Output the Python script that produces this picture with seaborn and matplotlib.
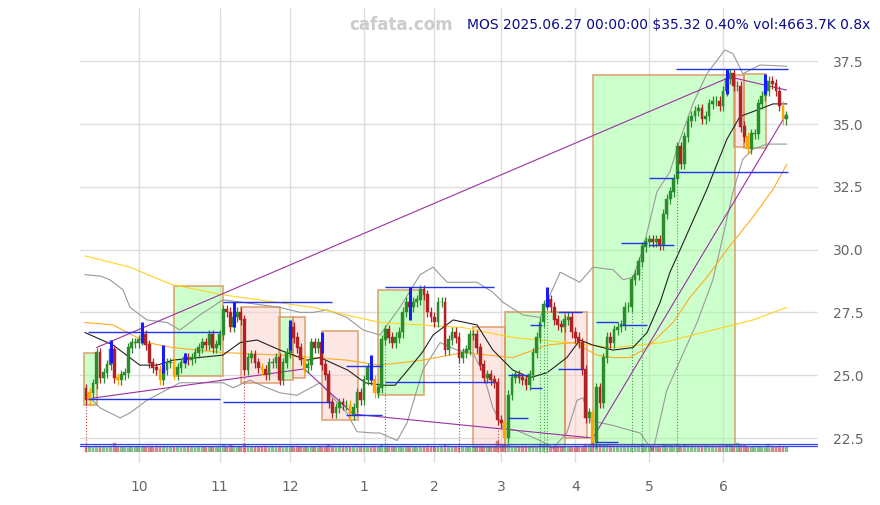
import numpy as np
import pandas as pd
import matplotlib
matplotlib.use("Agg")
import matplotlib.pyplot as plt
import seaborn as sns
from matplotlib.patches import Rectangle

# daily closes, 2024-09-10 .. 2025-06-27 (trading-day index 0..199)
closes = [
    24.0, 24.3, 24.65, 25.9, 24.9, 25.1, 25.4, 26.0, 24.9, 24.8,
    25.0, 25.1, 26.1, 26.3, 26.3, 26.4, 26.6, 26.2, 25.5, 25.3,
    25.2, 24.8, 25.2, 25.5, 25.5, 25.0, 25.3, 25.5, 25.7, 25.6,
    25.7, 25.9, 26.1, 26.3, 26.2, 26.6, 26.1, 26.2, 26.6, 27.6,
    27.5, 26.9, 27.3, 27.5, 27.2, 25.2, 25.7, 25.8, 25.5, 25.3,
    25.2, 25.0, 25.5, 25.5, 25.7, 24.8, 25.5, 25.9, 26.9, 26.5,
    26.1, 25.6, 25.3, 25.4, 26.3, 26.1, 26.3, 25.4, 25.0, 23.9,
    23.5, 23.7, 23.9, 23.8, 23.8, 23.4, 23.7, 24.3, 24.0, 24.8,
    25.3, 24.8, 24.3, 24.5, 26.4, 26.8, 26.5, 26.3, 26.5, 26.7,
    27.5, 27.9, 27.7, 27.9, 28.0, 28.4, 28.2, 27.5, 27.3, 27.1,
    27.9, 27.9, 26.0, 26.4, 26.7, 26.5, 25.7, 25.9, 26.0, 26.6,
    26.6, 26.1, 25.4, 24.9, 25.0, 24.8, 24.7, 23.2, 23.1, 22.5,
    24.2, 24.9, 25.0, 24.9, 24.8, 24.6, 25.0, 25.9, 26.5, 27.1,
    27.8, 28.0, 27.7, 27.2, 27.0, 26.9, 27.2, 27.3, 26.7, 26.5,
    26.3, 25.2, 23.3, 23.5, 22.3, 24.5, 23.9, 25.7, 26.5, 26.3,
    26.8, 26.9, 27.0, 27.7, 27.7, 28.8, 29.0, 29.5, 30.1, 30.3,
    30.4, 30.3, 30.4, 30.2, 31.4, 32.0, 32.3, 32.8, 34.1, 33.4,
    34.5, 35.1, 35.3, 35.5, 35.6, 35.2, 35.3, 35.8, 35.9, 35.9,
    35.7, 36.3, 36.8, 37.0, 36.5, 36.5, 34.9, 34.5, 34.0, 34.6,
    34.6, 35.8, 36.1, 36.3, 36.7, 36.6, 36.3, 35.7, 35.18, 35.32,
]
first_open = 24.45
orange_idx = [1, 9, 21, 25, 50, 62, 75, 82, 119, 144, 188, 198]

# volume in millions
volumes = [
    5.5, 5.0, 5.2, 6.5, 6.0, 5.0, 5.2, 5.8, 9.5, 6.0, 5.5, 5.3, 5.8, 5.5, 5.0, 4.8, 5.5, 5.2, 6.0, 5.5,
    5.8, 5.5, 5.0, 5.2, 4.8, 5.5, 5.0, 5.2, 4.8, 5.0, 5.3, 5.5, 5.0, 5.2, 4.8, 5.0, 5.5, 5.2, 5.8, 7.0,
    6.5, 6.8, 6.0, 5.5, 5.2, 8.0, 6.5, 5.5, 5.2, 5.0, 5.5, 5.8, 5.0, 4.8, 5.2, 5.5, 5.0, 5.2, 6.5, 6.0,
    5.8, 5.5, 5.0, 5.2, 5.5, 5.0, 5.8, 6.0, 6.2, 7.0, 6.5, 5.5, 5.0, 5.2, 4.8, 5.5, 5.2, 5.8, 5.5, 5.0,
    5.5, 5.2, 5.8, 5.5, 7.5, 6.5, 5.8, 5.5, 5.0, 5.2, 5.8, 6.5, 6.0, 5.5, 5.2, 5.5, 5.0, 5.8, 5.5, 5.2,
    5.5, 5.8, 7.0, 6.0, 5.5, 5.2, 6.0, 5.5, 5.2, 5.0, 5.5, 5.8, 6.2, 6.5, 5.5, 5.8, 6.0, 11.5, 8.5, 7.5,
    7.0, 6.5, 6.0, 5.5, 5.8, 5.5, 5.2, 6.0, 6.5, 7.0, 7.2, 8.5, 6.5, 6.0, 5.8, 5.5, 5.2, 5.5, 5.8, 6.0,
    5.5, 6.5, 8.0, 7.5, 9.0, 8.0, 7.0, 7.5, 6.8, 6.0, 6.2, 5.8, 5.5, 6.0, 5.5, 6.5, 6.0, 6.2, 6.8, 6.5,
    6.0, 5.8, 5.5, 5.8, 8.5, 7.5, 7.0, 6.5, 7.2, 6.5, 6.8, 6.5, 6.0, 5.8, 5.5, 6.0, 5.8, 5.5, 5.2, 5.5,
    5.8, 6.5, 7.0, 7.5, 6.5, 9.0, 7.5, 6.8, 6.0, 5.5, 5.8, 6.5, 6.0, 5.8, 8.5, 6.0, 5.5, 5.8, 5.2, 4.66,
]
vol_avg_lines = [5.8, 8.0]

month_idx = [15, 38, 58, 79, 99, 118, 139, 160, 181]
month_labels = ['10', '11', '12', '1', '2', '3', '4', '5', '6']

# moving averages / bands (index, price)
ma20_x = [-0.3, 7.7, 15.3, 20.2, 24.7, 38.9, 43.8, 48.6, 55.1, 62.8, 66.5, 74.4, 79.3, 84.1, 87.8,
          92.0, 95.5, 98.6, 104.3, 111.1, 115.6, 121.3, 126.1, 131.0, 136.6, 140.3, 144.0, 149.7,
          155.4, 159.4, 163.1, 165.9, 168.8, 176.4, 182.1, 185.8, 191.5, 195.2, 199.1]
ma20_y = [26.7, 26.2, 25.4, 25.4, 25.6, 25.8, 26.3, 26.4, 26.0, 25.6, 25.7, 25.2, 24.7, 24.6, 24.6,
          25.3, 25.9, 26.6, 27.2, 27.0, 26.0, 25.2, 24.9, 25.1, 25.7, 26.4, 26.2, 26.0,
          26.1, 26.7, 27.9, 29.1, 30.0, 32.4, 34.4, 35.3, 35.6, 35.8, 35.8]
ma50_x = [-0.3, 7.7, 17.3, 24.7, 38.9, 55.1, 74.1, 83.5, 95.7, 107.1, 121.3, 131.0, 138.4, 145.2,
          149.7, 154.5, 159.4, 166.8, 171.6, 176.4, 182.1, 189.5, 195.2, 199.1]
ma50_y = [27.1, 27.0, 26.3, 26.1, 25.9, 25.8, 25.6, 25.4, 25.6, 25.9, 25.7, 26.2, 26.3, 25.8,
          25.7, 25.7, 26.1, 27.1, 28.1, 28.9, 30.0, 31.3, 32.4, 33.4]
ma200_x = [-0.3, 12.5, 21.0, 24.7, 38.9, 64.5, 83.5, 107.1, 121.3, 136.6, 149.7, 163.9, 178.1, 189.5, 199.1]
ma200_y = [29.75, 29.3, 28.8, 28.6, 28.2, 27.7, 27.1, 26.9, 26.5, 26.3, 26.1, 26.3, 26.8, 27.2, 27.7]
bb_up_x = [-0.3, 4.0, 6.8, 10.5, 12.5, 17.3, 23.0, 26.7, 32.4, 38.9, 44.6, 55.1, 60.8, 64.5, 68.5,
           74.1, 78.7, 83.5, 89.2, 94.9, 98.6, 102.6, 111.1, 115.6, 118.5, 124.1, 129.0, 134.7,
           140.3, 144.0, 149.7, 152.6, 155.4, 158.2, 162.2, 165.9, 168.8, 172.4, 176.4, 181.5,
           183.8, 186.6, 191.5, 199.1]
bb_up_y = [29.0, 28.95, 28.8, 28.4, 27.7, 27.2, 27.1, 26.8, 27.4, 28.0, 27.9, 27.7, 27.5, 27.5, 27.6,
           27.3, 26.8, 26.6, 27.7, 29.0, 29.3, 28.7, 28.7, 28.3, 27.9, 27.4, 27.3, 29.1,
           28.7, 29.3, 29.2, 28.8, 28.9, 30.0, 32.3, 33.1, 34.4, 35.8, 37.0, 37.95,
           37.8, 37.0, 37.35, 37.3]
bb_lo_x = [-0.3, 4.0, 9.7, 12.5, 17.3, 26.7, 38.9, 41.8, 46.6, 51.4, 55.1, 59.9, 66.5, 70.2, 74.1,
           77.0, 81.5, 83.5, 88.4, 91.2, 95.7, 100.6, 105.4, 109.9, 112.8, 115.6, 118.5, 122.4,
           129.0, 132.7, 136.6, 139.5, 141.2, 143.2, 149.7, 157.4, 159.4, 161.1, 165.0, 168.8,
           173.6, 178.1, 180.1, 183.8, 186.6, 189.5, 193.5, 199.1]
bb_lo_y = [24.3, 23.7, 23.3, 23.5, 24.0, 24.7, 24.7, 24.5, 24.8, 24.5, 24.3, 24.2, 24.7, 24.1, 23.5,
           22.75, 22.7, 22.7, 22.4, 23.1, 25.2, 26.3, 26.0, 25.9, 25.1, 23.7, 22.9, 22.8,
           22.4, 22.1, 22.7, 24.0, 24.1, 23.2, 23.0, 22.7, 22.3, 22.0, 24.4, 25.6,
           27.1, 28.8, 30.0, 32.3, 33.6, 34.0, 34.2, 34.2]

# trend lines (index, price)
trend_up_x = [3, 183, 199]
trend_up_y = [26.1, 36.87, 36.35]
trend_lo_x = [0, 62, 76, 144, 199]
trend_lo_y = [24.05, 25.25, 23.45, 22.5, 35.4]

# range boxes: start idx, end idx, low, high, kind
box_start = [-0.5, 25, 44, 54.8, 58.8, 67, 83, 110, 119, 136, 144, 184, 187]
box_end = [3, 38.9, 55.1, 58.8, 62.2, 77.3, 96, 119, 136, 142.3, 184.4, 187, 193.2]
box_low = [23.8, 24.97, 24.7, 24.8, 24.9, 23.2, 24.2, 22.15, 22.15, 22.5, 22.2, 34.1, 34.05]
box_high = [25.9, 28.55, 27.7, 27.3, 27.3, 26.76, 28.4, 26.9, 27.5, 27.5, 36.95, 36.95, 37.0]
box_kind = ['up', 'up', 'down', 'up', 'down', 'down', 'up', 'down', 'up', 'down', 'up', 'down', 'up']

# support / resistance segments
sr_start = [0.5, 0.5, 39, 39, 74, 74, 85, 85, 120, 120, 126, 126, 134, 134, 145, 145,
            152, 152, 160, 160, 167.5, 167.5]
sr_end = [38, 38, 70, 70, 84, 84, 116, 116, 125.5, 125.5, 129.5, 129.5, 141, 141, 151, 151,
          159.4, 159.4, 167, 167, 199.5, 199.5]
sr_price = [26.7, 24.05, 27.9, 23.93, 25.35, 23.4, 28.5, 24.73, 25.0, 23.3, 27.0, 24.5,
            27.5, 25.25, 27.1, 22.35, 30.25, 27.0, 32.85, 30.2, 37.2, 33.1]

# signal markers
sig_idx = [7, 16, 22, 28, 42, 58, 67, 81, 92, 131, 182, 193]
sig_lo = [25.5, 26.3, 25.1, 25.5, 26.9, 26.0, 25.9, 24.8, 27.2, 27.7, 36.2, 36.2]
sig_hi = [26.4, 27.1, 26.2, 25.9, 27.9, 27.2, 26.7, 25.8, 28.5, 28.5, 37.2, 37.0]
sell_marks = [0, 45, 106, 117]
buy_marks = [85, 119, 129, 130, 131, 155, 158, 168]

# ---------------------------------------------------------------
n = len(closes)
idx = np.arange(n)
opens = [first_open] + closes[:-1]
df = pd.DataFrame({'i': idx, 'open': opens, 'close': closes, 'vol': volumes})
df['top'] = df[['open', 'close']].max(axis=1)
df['bot'] = df[['open', 'close']].min(axis=1)
df['high'] = df['top'] + 0.2
df['low'] = df['bot'] - 0.2
df['color'] = np.where(df['close'] >= df['open'], '#2a8c2a', '#b22222')
df.loc[orange_idx, 'color'] = '#ffa500'

sns.set_theme(style="white")
fig = plt.figure(figsize=(8.8, 5.05), dpi=100)
ax = fig.add_axes([80 / 880, 42 / 505, 738 / 880, 455 / 505])


def px_to_price(y):
    return 22.5 + (438 - y) / 25.12


ax.set_ylim(px_to_price(463), px_to_price(8))
ax.set_xlim(-1.7, -1.7 + 738 / 3.52)

ax.set_yticks([22.5, 25, 27.5, 30, 32.5, 35, 37.5])
ax.set_yticklabels(['22.5', '25.0', '27.5', '30.0', '32.5', '35.0', '37.5'])
ax.yaxis.tick_right()
ax.set_xticks(month_idx)
ax.set_xticklabels(month_labels)
ax.tick_params(axis='y', length=0, labelsize=10, labelcolor='#666666', pad=11)
ax.tick_params(axis='x', length=4, width=1, color='#333333', labelsize=10,
               labelcolor='#666666', pad=8, direction='out')
ax.grid(True, color='#dddddd', linewidth=1)
ax.set_axisbelow(True)
for s in ax.spines.values():
    s.set_visible(False)

# boxes
for s0, s1, lo, hi, kind in zip(box_start, box_end, box_low, box_high, box_kind):
    fc = '#9cff9c' if kind == 'up' else '#fbd0cc'
    ax.add_patch(Rectangle((s0, lo), s1 - s0, hi - lo, facecolor=fc, alpha=0.5,
                           edgecolor='none', linewidth=0, zorder=1))
    ax.add_patch(Rectangle((s0, lo), s1 - s0, hi - lo, facecolor='none',
                           edgecolor='#d9935a', alpha=0.75, linewidth=1.3, zorder=1.5))

# moving averages and bands
sns.lineplot(x=bb_up_x, y=bb_up_y, ax=ax, color='#999999', linewidth=0.8, zorder=2)
sns.lineplot(x=bb_lo_x, y=bb_lo_y, ax=ax, color='#999999', linewidth=0.8, zorder=2)
sns.lineplot(x=ma200_x, y=ma200_y, ax=ax, color='#ffd21f', linewidth=0.8, zorder=2)
sns.lineplot(x=ma50_x, y=ma50_y, ax=ax, color='#ffab1f', linewidth=0.8, zorder=2)
sns.lineplot(x=ma20_x, y=ma20_y, ax=ax, color='#222222', linewidth=0.8, zorder=2)

# trend lines
ax.plot(trend_up_x, trend_up_y, color='#9b30a0', linewidth=0.8, zorder=3)
ax.plot(trend_lo_x, trend_lo_y, color='#9b30a0', linewidth=0.8, zorder=3)

# dotted signal verticals
for i in sell_marks:
    ax.vlines(i, 21.95, df.loc[i, 'low'], colors='#d04040', linestyles=':', linewidth=0.8, zorder=2)
for i in buy_marks:
    ax.vlines(i, 21.95, df.loc[i, 'low'], colors='#40a040', linestyles=':', linewidth=0.8, zorder=2)

# candles
ax.vlines(df['i'], df['low'], df['high'], colors=df['color'], linewidth=0.9, zorder=4)
ax.bar(df['i'], df['top'] - df['bot'] + 0.03, bottom=df['bot'], width=0.78,
       color=df['color'], edgecolor=df['color'], linewidth=0.3, zorder=5)

# support / resistance
ax.hlines(sr_price, sr_start, sr_end, colors='#2233ee', linewidth=1, zorder=6)
ax.vlines(sig_idx, sig_lo, sig_hi, colors='#1a1aff', linewidth=2.2, zorder=6)

# volume strip
axv = ax.inset_axes([0, 11 / 455, 1, 20 / 455])
axv.set_xlim(ax.get_xlim())
axv.set_ylim(0, 20)
vcol = np.where(df['close'] >= df['open'], '#2a8c2a', '#b22222')
axv.bar(df['i'], df['vol'], width=0.78, color=vcol, edgecolor=vcol, linewidth=0.3, alpha=0.5)
for v in vol_avg_lines:
    axv.axhline(v, color='#3344ee', linewidth=0.9)
axv.axis('off')

fig.text(0.456, 1 - 25 / 505, 'cafata.com', ha='center', va='center', fontsize=12,
         fontweight='bold', color='#cccccc')
fig.text(870 / 880, 1 - 25 / 505, 'MOS 2025.06.27 00:00:00 $35.32 0.40% vol:4663.7K 0.8x',
         ha='right', va='center', fontsize=10, color='#0b0b8a')

fig.savefig('out.png', dpi=100)
